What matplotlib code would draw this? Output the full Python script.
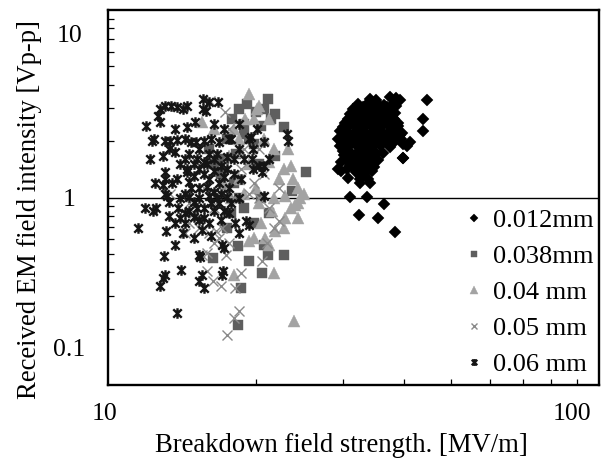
import matplotlib
matplotlib.use('Agg')
import matplotlib.pyplot as plt
from matplotlib.path import Path
from matplotlib.transforms import ScaledTranslation
from matplotlib.ticker import LogLocator, NullFormatter

plt.rcParams['font.family'] = ['Liberation Serif', 'DejaVu Serif']

labels = ['0.012mm', '0.038mm', '0.04 mm', '0.05 mm', '0.06 mm']

# 0.012 mm (black diamonds)
x_012 = [34.09, 35.06, 37.42, 38.47, 39.38,
         32.24, 33.47, 34.74, 36.39, 37.94,
         31.50, 32.54, 33.78, 35.06, 36.39, 37.42,
         31.07, 32.24, 33.31, 34.41, 35.72, 37.07, 38.30,
         30.78, 31.94, 33.00, 34.09, 35.39, 36.73, 38.12,
         30.08, 31.07, 32.24, 33.47, 34.74, 36.06, 37.42, 38.84,
         29.67, 30.78, 31.94, 33.16, 34.41, 35.72, 37.07, 38.47, 39.74,
         29.40, 30.50, 31.65, 32.85, 34.09, 35.39, 36.73, 38.12, 39.56,
         29.67, 30.78, 31.94, 33.16, 34.41, 35.72, 37.42, 40.68,
         30.08, 31.21, 32.39, 33.62, 34.90, 36.22,
         30.50, 31.65, 32.85, 34.09, 35.39, 39.93,
         31.07, 32.24, 33.47, 34.74,
         29.80, 31.94, 33.16, 34.41,
         30.78, 32.54, 33.78,
         33.0, 34.3, 35.7, 37.0, 38.6,
         31.6, 32.8, 34.0, 35.2, 36.5, 37.8,
         30.4, 31.5, 32.7, 33.9, 35.1, 36.4, 37.8, 39.0,
         30.1, 31.3, 32.5, 33.8, 35.0, 36.4, 37.8, 39.2,
         29.9, 31.1, 32.3, 33.6, 34.9, 36.3, 38.0, 39.8,
         30.2, 31.4, 32.6, 33.9, 35.1,
         31.0, 32.3, 33.5, 34.6,
         30.6, 31.7, 32.9, 34.0,
         44.67, 43.84, 43.84, 41.25, 39.93, 31.07, 33.62, 36.39, 32.46,
         35.50, 38.30, 29.80, 29.40, 32.54, 34.09]
y_012 = [3.36, 3.30, 3.42, 3.38, 3.33,
         3.16, 3.12, 3.18, 3.10, 3.15,
         2.98, 2.93, 2.99, 2.95, 2.97, 2.92,
         2.80, 2.76, 2.81, 2.77, 2.79, 2.75, 2.82,
         2.63, 2.60, 2.64, 2.61, 2.63, 2.59, 2.62,
         2.38, 2.43, 2.36, 2.42, 2.39, 2.45, 2.37, 2.41,
         2.25, 2.22, 2.26, 2.23, 2.24, 2.27, 2.21, 2.25, 2.22,
         2.06, 2.03, 2.07, 2.04, 2.05, 2.08, 2.02, 2.06, 2.04,
         1.89, 1.86, 1.90, 1.87, 1.88, 1.91, 1.85, 1.88,
         1.76, 1.73, 1.77, 1.74, 1.75, 1.72,
         1.62, 1.60, 1.63, 1.61, 1.59, 1.62,
         1.49, 1.47, 1.50, 1.46,
         1.38, 1.36, 1.37, 1.39,
         1.27, 1.25, 1.26,
         3.05, 3.03, 3.07, 3.04, 3.06,
         2.70, 2.72, 2.69, 2.71, 2.68, 2.70,
         2.50, 2.52, 2.49, 2.51, 2.50, 2.48, 2.52, 2.49,
         2.15, 2.14, 2.16, 2.13, 2.15, 2.17, 2.14, 2.15,
         1.96, 1.97, 1.95, 1.96, 1.98, 1.95, 1.96, 1.94,
         1.68, 1.69, 1.67, 1.68, 1.70,
         1.55, 1.54, 1.56, 1.55,
         1.42, 1.43, 1.41, 1.42,
         3.31, 2.62, 2.25, 1.97, 1.62, 1.01, 1.01, 0.918, 0.806,
         0.774, 0.653, 1.55, 1.42, 1.19, 1.19]

# 0.038 mm (dark grey squares)
x_038 = [21.11, 20.73, 21.86, 20.44, 22.75, 19.98, 18.45, 17.86, 19.15, 18.89,
         21.40, 21.86, 25.33, 23.72, 18.33, 19.33, 20.60, 22.75, 18.60, 16.33,
         18.33, 21.11, 20.73, 19.33, 17.45, 16.43, 16.97, 18.89, 19.79, 18.03,
         18.45, 17.77, 18.89, 19.79, 21.21, 20.44, 17.21, 16.05, 18.17, 20.25,
         17.45]
y_038 = [3.34, 2.96, 2.78, 2.40, 2.38, 2.85, 2.96, 2.62, 3.14, 2.46,
         2.62, 1.67, 1.37, 1.08, 0.550, 0.459, 0.396, 0.494, 0.330, 0.476,
         0.208, 0.494, 0.557, 2.05, 2.05, 1.51, 1.34, 2.18, 1.93, 1.19,
         0.99, 0.823, 0.875, 0.729, 0.823, 0.99, 1.61, 1.82, 1.71, 1.51,
         0.685]

# 0.04 mm (light grey triangles)
x_04 = [19.33, 20.25, 19.02, 15.50, 23.28, 23.50, 24.39, 25.05, 22.87, 24.00,
        22.87, 24.39, 21.50, 19.33, 20.87, 21.86, 22.23, 21.21, 18.67, 17.61,
        18.45, 20.00, 18.03, 21.78, 23.94, 21.21, 17.21, 18.03, 19.79, 20.73,
        21.71, 22.75, 23.83, 20.25, 18.89, 17.77, 22.75, 24.39, 23.50, 21.71,
        20.44, 19.79, 19.33, 18.45, 16.43, 21.21, 20.07, 24.57]
y_04 = [3.55, 3.07, 2.62, 2.52, 1.82, 1.48, 1.12, 1.05, 1.02, 0.907,
        0.774, 0.774, 0.843, 0.585, 0.607, 0.661, 1.26, 1.55, 1.75, 1.67,
        1.26, 1.12, 0.387, 0.396, 0.220, 0.557, 1.19, 2.32, 2.62, 2.05,
        1.82, 1.42, 1.26, 0.93, 1.05, 0.99, 0.685, 0.93, 0.875, 0.99,
        0.729, 0.607, 1.51, 2.05, 2.32, 2.62, 2.96, 0.99]

# 0.05 mm (grey crosses)
x_05 = [17.45, 18.03, 18.45, 16.97, 16.35, 15.87, 18.67, 20.54, 15.87, 22.23,
        17.37, 16.43, 14.62, 15.32, 16.05, 16.81, 17.61, 17.29, 18.67, 16.58,
        15.50, 19.33, 20.25, 21.21, 18.03, 17.21, 18.45, 19.79, 20.73, 18.89,
        17.61, 20.25, 22.23, 16.43, 14.97, 14.29, 18.11, 13.33, 14.62, 15.68,
        21.71, 17.05, 16.35, 21.02, 16.13]
y_05 = [0.184, 0.229, 0.249, 0.338, 0.359, 0.406, 0.396, 0.459, 0.505, 0.746,
        0.494, 0.571, 0.729, 0.685, 0.645, 0.607, 0.571, 2.85, 1.42, 0.660,
        0.494, 1.05, 0.99, 0.875, 0.99, 1.12, 1.26, 1.19, 1.34, 1.82,
        2.32, 1.82, 1.12, 0.875, 0.823, 0.645, 0.330, 1.05, 0.93, 1.12,
        0.685, 0.685, 0.95, 0.571, 3.28]

# 0.06 mm (black asterisks)
x_06 = [12.72, 13.02, 13.39, 13.77, 14.16, 14.49, 12.60, 15.04, 11.92, 12.72,
        15.61, 16.05, 16.73, 15.61, 15.83,
        12.25, 12.37, 13.02, 13.33, 13.77, 14.29, 14.76, 15.11, 15.68, 16.20,
        16.81, 19.33, 20.73, 23.07, 23.28, 19.51,
        13.27, 13.64, 12.90, 15.32, 16.05, 17.45, 19.70, 19.61, 20.25, 19.70,
        20.73, 14.29,
        13.02, 13.02, 12.90, 13.77, 14.49, 14.49, 14.62, 14.97, 15.32, 15.68,
        16.05, 16.43, 16.81, 17.21, 18.03, 18.67, 20.54, 15.32, 15.90, 16.43,
        13.02, 13.14, 14.62, 14.97, 15.32, 15.68, 16.20, 16.66, 17.21, 17.77,
        18.45, 20.73, 13.27, 13.27, 13.83, 14.29, 14.97, 15.68, 16.97, 19.06,
        19.33, 12.49, 12.31,
        11.48, 13.08, 13.64, 14.16, 13.96, 14.97, 15.50, 16.20, 17.05, 17.21,
        12.96, 15.32, 14.03, 13.02, 12.90, 12.72, 13.77, 15.38, 15.50, 15.32,
        17.13, 17.05, 15.68,
        14.97, 15.68, 16.43, 16.97, 17.61, 16.97, 16.05, 15.18, 16.43, 17.61,
        18.11, 18.89, 18.45, 17.77, 17.21, 16.43, 18.45, 20.07, 21.21, 18.03,
        14.62, 15.18, 15.90, 16.66, 17.45, 14.76, 14.29, 13.96, 16.81, 17.45,
        14.62, 15.32, 16.05, 14.29, 13.64, 13.46, 13.96, 13.64, 12.14, 12.43,
        11.86, 18.45, 17.61, 14.49]
y_06 = [2.96, 3.07, 3.07, 3.03, 2.96, 3.07, 2.72, 2.52, 2.40, 2.52,
        3.34, 3.22, 3.22, 2.96, 2.89,
        2.00, 2.05, 2.00, 2.00, 2.03, 2.05, 1.98, 1.98, 2.00, 2.05,
        1.98, 2.05, 1.98, 2.18, 2.00, 2.10,
        1.82, 1.75, 1.67, 1.82, 1.71, 1.65, 1.82, 1.61, 1.48, 1.42,
        1.48, 1.61,
        1.37, 1.26, 1.16, 1.26, 1.42, 1.37, 1.215, 1.31, 1.42, 1.34,
        1.26, 1.39, 1.19, 1.29, 1.34, 1.26, 1.37, 1.12, 1.14, 1.076,
        1.05, 1.02, 1.01, 0.95, 0.99, 0.875, 0.93, 0.99, 0.85, 0.93,
        0.99, 1.02, 0.95, 0.80, 0.875, 0.823, 0.79, 0.774, 0.755, 0.746,
        0.711, 0.875, 0.843,
        0.69, 0.66, 0.557, 0.645, 0.774, 0.607, 0.669, 0.622, 0.557, 0.537,
        0.487, 0.494, 0.411, 0.387, 0.373, 0.338, 0.243, 0.481, 0.387, 0.359,
        0.406, 0.387, 0.33,
        1.51, 1.55, 1.61, 1.48, 1.12, 1.05, 1.02, 0.875, 0.843, 0.823,
        0.729, 1.61, 1.82, 2.05, 2.32, 2.46, 2.46, 2.32, 1.61, 1.61,
        1.71, 1.61, 1.51, 1.71, 1.42, 1.12, 1.05, 0.99, 0.93, 1.01,
        0.85, 0.755, 0.729, 0.729, 0.729, 1.19, 1.51, 2.32, 1.61, 1.19,
        0.875, 0.645, 2.05, 2.37]

# asterisk marker: x with a vertical bar
star_path = Path([(-1, -1), (1, 1), (-1, 1), (1, -1), (0, -1.25), (0, 1.25)],
                 [Path.MOVETO, Path.LINETO, Path.MOVETO, Path.LINETO,
                  Path.MOVETO, Path.LINETO])

fig = plt.figure(figsize=(6.03, 4.59), dpi=100)
ax = fig.add_axes([0.1799, 0.1612, 0.9934 - 0.1799, 0.9782 - 0.1612])
ax.set_xscale('log')
ax.set_yscale('log')
ax.set_xlim(10, 100)
ax.set_ylim(0.1, 10)

ax.axhline(1, color='black', lw=1.0, zorder=1)

h1, = ax.plot(x_012, y_012, ls='none', marker='D', ms=5.8, mfc='black',
              mec='black', mew=0.3, zorder=2, label=labels[0])
h2, = ax.plot(x_038, y_038, ls='none', marker='s', ms=6.8, mfc='#5e5e5e',
              mec='#5e5e5e', mew=0.3, zorder=3, label=labels[1])
h3, = ax.plot(x_04, y_04, ls='none', marker='^', ms=8.6, mfc='#a3a3a3',
              mec='#a3a3a3', mew=0.3, zorder=4, label=labels[2])
h4, = ax.plot(x_05, y_05, ls='none', marker='x', ms=6.6, mec='#8a8a8a',
              mew=1.0, zorder=5, label=labels[3])
h5, = ax.plot(x_06, y_06, ls='none', marker=star_path, ms=7.6, mfc='none',
              mec='#151515', mew=1.7, zorder=6, label=labels[4])

for s in ax.spines.values():
    s.set_linewidth(1.7)
    s.set_color('black')

ax.xaxis.set_minor_locator(LogLocator(base=10, subs=range(2, 10)))
ax.yaxis.set_minor_locator(LogLocator(base=10, subs=range(2, 10)))
ax.xaxis.set_minor_formatter(NullFormatter())
ax.yaxis.set_minor_formatter(NullFormatter())
ax.set_xticks([10, 100])
ax.set_xticklabels(['10', '100'])
ax.set_yticks([0.1, 1, 10])
ax.set_yticklabels(['0.1', '1', '10'])
ax.tick_params(which='major', length=0, labelsize=18.5)
ax.tick_params(axis='x', which='major', pad=13)
ax.tick_params(axis='y', which='major', pad=28)
ax.tick_params(which='minor', direction='in', length=4, width=0.9,
               top=False, right=False)
for t in ax.get_yticklabels():
    t.set_horizontalalignment('center')

ax.set_xlabel('Breakdown field strength. [MV/m]', fontsize=19.2, va='center')
ax.xaxis.set_label_coords(0.474, -0.16)
ax.set_ylabel('Received EM field intensity [Vp-p]', fontsize=19.2,
              va='center', ha='center')
ax.yaxis.set_label_coords(-0.16, 0.469)

leg = ax.legend(handles=[h1, h2, h3, h4, h5], loc='lower right',
                bbox_to_anchor=(1.0102, -0.0053), frameon=False, fontsize=19,
                markerscale=0.65, handlelength=0.75, handletextpad=0.35,
                labelspacing=0.48, borderaxespad=0.0)

fig.canvas.draw()
dpi_t = fig.dpi_scale_trans
yshift = {'10': -0.23, '1': 0.0, '0.1': 0.38}
for t in ax.get_yticklabels():
    dy = yshift.get(t.get_text(), 0.0)
    t.set_transform(t.get_transform() + ScaledTranslation(0, dy, dpi_t))
xshift = {'10': -0.035, '100': -0.27}
for t in ax.get_xticklabels():
    dx = xshift.get(t.get_text(), 0.0)
    t.set_transform(t.get_transform() + ScaledTranslation(dx, 0, dpi_t))

fig.savefig('out.png', dpi=100)
